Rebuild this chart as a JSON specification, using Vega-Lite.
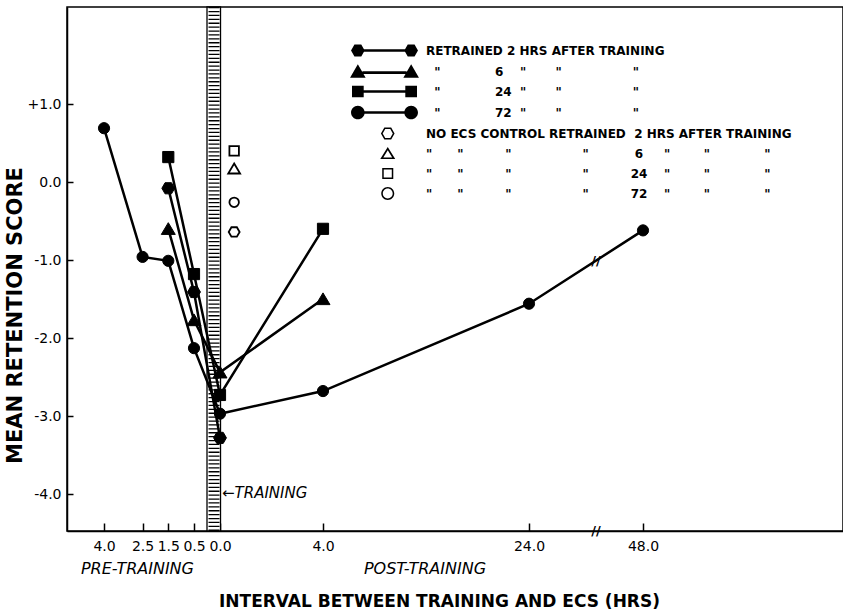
{
  "$schema": "https://vega.github.io/schema/vega-lite/v6.json",
  "width": 776,
  "height": 524,
  "autosize": {"type": "none"},
  "padding": {"left": 67, "top": 7, "right": 0, "bottom": 80},
  "background": "white",
  "config": {
    "font": "DejaVu Sans",
    "view": {"stroke": "black", "strokeWidth": 1.5},
    "axis": {"grid": false, "domainColor": "black", "domainWidth": 1.5, "tickColor": "black", "tickWidth": 1.5, "labelColor": "black", "titleColor": "black", "labelFont": "DejaVu Sans", "titleFont": "DejaVu Sans"}
  },
  "datasets": {
    "pts": [
      {"series": "R72", "group": "retrained", "hrs": -4, "score": 0.69},
      {"series": "R72", "group": "retrained", "hrs": -2.5, "score": -0.96},
      {"series": "R72", "group": "retrained", "hrs": -1.5, "score": -1.01},
      {"series": "R72", "group": "retrained", "hrs": -0.5, "score": -2.13},
      {"series": "R72", "group": "retrained", "hrs": 0, "score": -2.97},
      {"series": "R72", "group": "retrained", "hrs": 4, "score": -2.68},
      {"series": "R72", "group": "retrained", "hrs": 24, "score": -1.56},
      {"series": "R72", "group": "retrained", "hrs": 48, "score": -0.62},
      {"series": "R24", "group": "retrained", "hrs": -1.5, "score": 0.32},
      {"series": "R24", "group": "retrained", "hrs": -0.5, "score": -1.18},
      {"series": "R24", "group": "retrained", "hrs": 0, "score": -2.73},
      {"series": "R24", "group": "retrained", "hrs": 4, "score": -0.6},
      {"series": "R6", "group": "retrained", "hrs": -1.5, "score": -0.6},
      {"series": "R6", "group": "retrained", "hrs": -0.5, "score": -1.77},
      {"series": "R6", "group": "retrained", "hrs": 0, "score": -2.44},
      {"series": "R6", "group": "retrained", "hrs": 4, "score": -1.5},
      {"series": "R2", "group": "retrained", "hrs": -1.5, "score": -0.08},
      {"series": "R2", "group": "retrained", "hrs": -0.5, "score": -1.41},
      {"series": "R2", "group": "retrained", "hrs": 0, "score": -3.28},
      {"series": "C2", "group": "control", "hrs": 0.55, "score": -0.64},
      {"series": "C6", "group": "control", "hrs": 0.55, "score": 0.17},
      {"series": "C24", "group": "control", "hrs": 0.55, "score": 0.4},
      {"series": "C72", "group": "control", "hrs": 0.55, "score": -0.26}
    ]
  },
  "layer": [
    {
      "data": {"values": [{"start": -0.25, "end": 0.02}]},
      "mark": {"type": "rect", "fill": "white", "stroke": "black", "strokeWidth": 1.3},
      "encoding": {
        "x": {"field": "start", "type": "quantitative"},
        "x2": {"field": "end"}
      }
    },
    {
      "data": {"values": [{"mid": -0.115}]},
      "mark": {"type": "rule", "color": "black", "strokeWidth": 11, "strokeDash": [1.3, 2.6]},
      "encoding": {"x": {"field": "mid", "type": "quantitative"}}
    },
    {
      "data": {"name": "pts"},
      "transform": [{"filter": "datum.group == 'retrained'"}],
      "mark": {"type": "line", "color": "black", "strokeWidth": 2.5},
      "encoding": {
        "x": {
          "field": "hrs", "type": "quantitative",
          "scale": {"domain": [-5.44, -0.5, 0, 4, 24, 48, 90], "range": [0, 127, 153, 256, 462, 576, 776], "nice": false, "zero": false},
          "axis": {
            "title": "INTERVAL BETWEEN TRAINING AND ECS (HRS)",
            "values": [-4, -2.5, -1.5, -0.5, 0, 4, 24, 48],
            "labelExpr": "format(abs(datum.value), '.1f')",
            "labelFontSize": 14, "labelPadding": 16, "tickSize": -8,
            "labelOverlap": false, "labelFlush": false,
            "titleFontSize": 17, "titleFontWeight": "bold",
            "titleX": 372, "titleY": 70, "titleAlign": "center", "titleBaseline": "middle"
          }
        },
        "y": {
          "field": "score", "type": "quantitative",
          "scale": {"domain": [-4.474, 2.244], "nice": false, "zero": false},
          "axis": {
            "title": "MEAN RETENTION SCORE",
            "values": [1, 0, -1, -2, -3, -4],
            "labelExpr": "datum.value > 0 ? '+' + format(datum.value, '.1f') : datum.value < 0 ? '-' + format(-datum.value, '.1f') : '0.0'",
            "labelFontSize": 14, "labelPadding": 12, "tickSize": -6,
            "titleFontSize": 21, "titleFontWeight": "bold",
            "titleX": -52, "titleY": 308, "titleAngle": 270, "titleAlign": "center", "titleBaseline": "middle"
          }
        },
        "detail": {"field": "series"}
      }
    },
    {
      "data": {"name": "pts"},
      "mark": {"type": "point", "filled": true, "color": "black", "opacity": 0},
      "encoding": {
        "x": {"field": "hrs", "type": "quantitative"},
        "y": {"field": "score", "type": "quantitative"},
        "shape": {
          "field": "series", "type": "nominal",
          "scale": {
            "domain": ["R2", "R6", "R24", "R72", "C2", "C6", "C24", "C72"],
            "range": [
              "M-3.05,0L-3.575,0.909L-4.625,0.909L-5.15,0L-4.625,-0.909L-3.575,-0.909ZM5.15,0L4.625,0.909L3.575,0.909L3.05,0L3.575,-0.909L4.625,-0.909ZM-3.2,-0.2H3.2V0.2H-3.2Z",
              "M-4.1,-1.1L-2.9,0.95L-5.3,0.95ZM4.1,-1.1L5.3,0.95L2.9,0.95ZM-3.4,-0.02H3.4V0.38H-3.4Z",
              "M-5,-0.9H-3.2V0.9H-5ZM3.2,-0.9H5V0.9H3.2ZM-3.3,-0.2H3.3V0.2H-3.3Z",
              "M-3.05,0A1.05,1.05,0,1,1,-5.15,0A1.05,1.05,0,1,1,-3.05,0ZM5.15,0A1.05,1.05,0,1,1,3.05,0A1.05,1.05,0,1,1,5.15,0ZM-3.2,-0.2H3.2V0.2H-3.2Z",
              "M1.55,0L1.025,0.909L-0.025,0.909L-0.55,0L-0.025,-0.909L1.025,-0.909ZM1.28,0L0.89,-0.675L0.11,-0.675L-0.28,0L0.11,0.675L0.89,0.675Z",
              "M0.5,-1L1.65,0.85L-0.65,0.85ZM0.5,-0.501L-0.184,0.6L1.184,0.6Z",
              "M-0.35,-0.85H1.35V0.85H-0.35ZM-0.12,-0.62V0.62H1.12V-0.62Z",
              "M1.5,0A1,1,0,1,1,-0.5,0A1,1,0,1,1,1.5,0ZM1.26,0A0.76,0.76,0,1,0,-0.26,0A0.76,0.76,0,1,0,1.26,0Z"
            ]
          },
          "legend": {
            "title": null, "orient": "none", "legendX": 311, "legendY": 37, "padding": 0,
            "labelFont": "DejaVu Sans", "labelFontSize": 12, "labelFontWeight": "bold", "labelColor": "black", "labelLimit": 700,
            "labelOffset": 35, "symbolSize": 169, "rowPadding": 7,
            "symbolOpacity": 1, "symbolFillColor": "black", "symbolStrokeColor": "black", "symbolStrokeWidth": 0,
            "labelExpr": "datum.value=='R2' ? 'RETRAINED 2 HRS AFTER TRAINING' : datum.value=='R6' ? '\u200b'+pad('',2,'\u00a0')+'\"'+pad('',13,'\u00a0')+'6'+pad('',4,'\u00a0')+'\"'+pad('',7,'\u00a0')+'\"'+pad('',17,'\u00a0')+'\"' : datum.value=='R24' ? '\u200b'+pad('',2,'\u00a0')+'\"'+pad('',13,'\u00a0')+'24'+pad('',2,'\u00a0')+'\"'+pad('',7,'\u00a0')+'\"'+pad('',17,'\u00a0')+'\"' : datum.value=='R72' ? '\u200b'+pad('',2,'\u00a0')+'\"'+pad('',13,'\u00a0')+'72'+pad('',2,'\u00a0')+'\"'+pad('',7,'\u00a0')+'\"'+pad('',17,'\u00a0')+'\"' : datum.value=='C2' ? 'NO ECS CONTROL RETRAINED\u00a0\u00a02 HRS AFTER TRAINING' : datum.value=='C6' ? '\"'+pad('',6,'\u00a0')+'\"'+pad('',10,'\u00a0')+'\"'+pad('',17,'\u00a0')+'\"'+pad('',11,'\u00a0')+'6'+pad('',5,'\u00a0')+'\"'+pad('',8,'\u00a0')+'\"'+pad('',13,'\u00a0')+'\"' : datum.value=='C24' ? '\"'+pad('',6,'\u00a0')+'\"'+pad('',10,'\u00a0')+'\"'+pad('',17,'\u00a0')+'\"'+pad('',10,'\u00a0')+'24'+pad('',4,'\u00a0')+'\"'+pad('',8,'\u00a0')+'\"'+pad('',13,'\u00a0')+'\"' : '\"'+pad('',6,'\u00a0')+'\"'+pad('',10,'\u00a0')+'\"'+pad('',17,'\u00a0')+'\"'+pad('',10,'\u00a0')+'72'+pad('',4,'\u00a0')+'\"'+pad('',8,'\u00a0')+'\"'+pad('',13,'\u00a0')+'\"'"
          }
        }
      }
    },
    {
      "data": {"name": "pts"},
      "mark": {"type": "point", "filled": true, "stroke": "black", "opacity": 1},
      "encoding": {
        "x": {"field": "hrs", "type": "quantitative"},
        "y": {"field": "score", "type": "quantitative"},
        "shape": {
          "condition": [
            {"test": "datum.series=='R2' || datum.series=='C2'", "value": "M1.15,0L0.575,0.996L-0.575,0.996L-1.15,0L-0.575,-0.996L0.575,-0.996Z"},
            {"test": "datum.series=='R6' || datum.series=='C6'", "value": "M0,-1.1L1.25,1L-1.25,1Z"},
            {"test": "datum.series=='R24' || datum.series=='C24'", "value": "square"}
          ],
          "value": "circle"
        },
        "fill": {"condition": {"test": "datum.group=='control'", "value": "white"}, "value": "black"},
        "size": {"condition": {"test": "datum.group=='control'", "value": 90}, "value": 125},
        "strokeWidth": {"condition": {"test": "datum.group=='control'", "value": 1.8}, "value": 1}
      }
    },
    {
      "data": {"values": [{"label": "PRE-TRAINING", "hrs": -2.7, "score": -4.96}, {"label": "POST-TRAINING", "hrs": 13.9, "score": -4.96}]},
      "mark": {"type": "text", "fontSize": 16, "fontStyle": "italic", "color": "black", "align": "center", "baseline": "middle"},
      "encoding": {"x": {"field": "hrs", "type": "quantitative"}, "y": {"field": "score", "type": "quantitative"}, "text": {"field": "label"}}
    },
    {
      "data": {"values": [{"label": "←TRAINING", "hrs": 0, "score": -3.99}]},
      "mark": {"type": "text", "fontSize": 15, "fontStyle": "italic", "color": "black", "align": "left", "baseline": "middle", "dx": 2},
      "encoding": {"x": {"field": "hrs", "type": "quantitative"}, "y": {"field": "score", "type": "quantitative"}, "text": {"field": "label"}}
    },
    {
      "data": {"values": [{"label": "//", "hrs": 38.1, "score": -1.01}, {"label": "//", "hrs": 38.1, "score": -4.474}]},
      "mark": {"type": "text", "fontSize": 13, "fontWeight": "bold", "color": "black", "align": "center", "baseline": "middle"},
      "encoding": {"x": {"field": "hrs", "type": "quantitative"}, "y": {"field": "score", "type": "quantitative"}, "text": {"field": "label"}}
    }
  ]
}
